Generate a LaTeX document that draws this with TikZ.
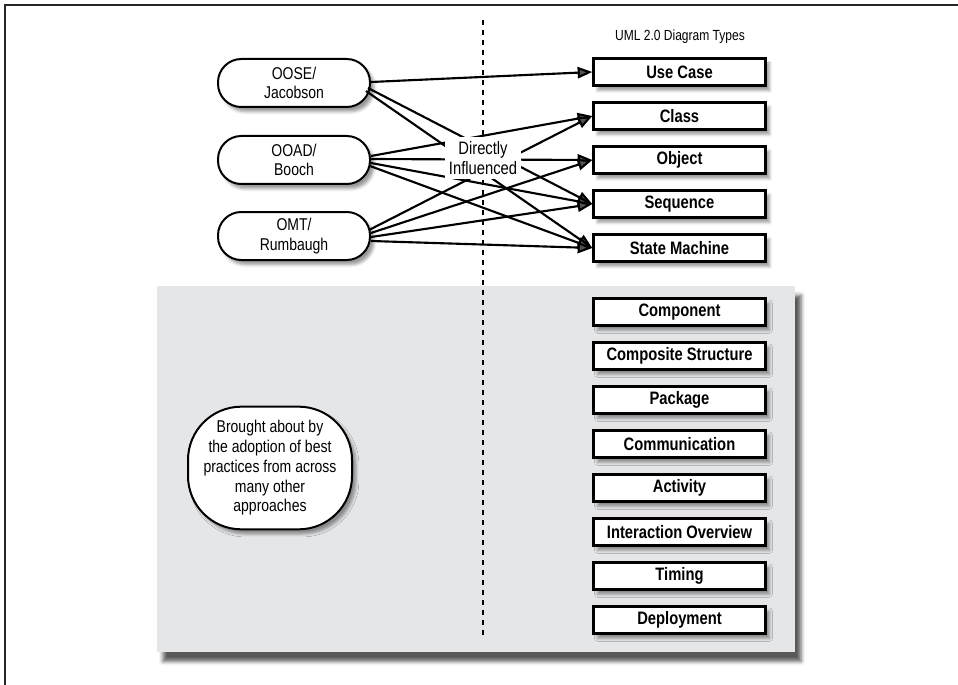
\documentclass[tikz,border=0pt]{standalone}
\usepackage{fontspec}
\setmainfont{Liberation Sans}[FakeStretch=0.82]
\usetikzlibrary{arrows.meta,shadows.blur,calc}
\definecolor{panelgray}{HTML}{E5E6E8}
\begin{document}
\begin{tikzpicture}[x=0.75pt,y=-0.75pt,
  typebox/.style={draw, line width=1.8pt, fill=white, minimum width=129pt, minimum height=20.5pt, inner sep=0pt,
    font=\bfseries\fontsize{13.5}{15}\selectfont,
    blur shadow={shadow xshift=3pt, shadow yshift=-3.5pt, shadow blur radius=2.2pt, shadow opacity=40}},
  source/.style={draw, line width=1.5pt, fill=white, rounded corners=17.5pt, minimum width=114pt, minimum height=36pt,
    align=center, inner sep=0pt, font=\fontsize{12.8}{14.5}\selectfont,
    blur shadow={shadow xshift=3pt, shadow yshift=-3.5pt, shadow blur radius=2.2pt, shadow opacity=40}},
  infl/.style={-{Triangle[length=11pt,width=8.5pt]}, line width=1.6pt},
  divider/.style={line width=1.8pt, dash pattern=on 4pt off 3.5pt},
  plain/.style={align=center, inner sep=1pt, font=\fontsize{13.5}{15}\selectfont}
]
\useasboundingbox (0,0) rectangle (958,685);
% frame
\draw[line width=1.2pt, black!85] (5,685) -- (5,5) -- (958,5);
% panel
\fill[panelgray, blur shadow={shadow xshift=4.5pt, shadow yshift=-7pt, shadow blur radius=3pt, shadow opacity=65}]
  (157,286) rectangle (795,652);
% divider
\coordinate (dtop) at (483,20);
\coordinate (dbot) at (483,637);
\draw[divider] (dtop) -- (dbot);
% title
\node[font=\fontsize{11}{12}\selectfont] (title) at (680,37) {UML 2.0 Diagram Types};
% type boxes
\node[typebox] (usecase) at (679.5,72) {Use Case};
\node[typebox] (class) at (679.5,116) {Class};
\node[typebox] (object) at (679.5,160) {Object};
\node[typebox] (sequence) at (679.5,204) {Sequence};
\node[typebox] (statemachine) at (679.5,248) {State Machine};
\node[typebox] (component) at (679.5,312) {Component};
\node[typebox] (composite) at (679.5,356) {Composite Structure};
\node[typebox] (package) at (679.5,400) {Package};
\node[typebox] (communication) at (679.5,444) {Communication};
\node[typebox] (activity) at (679.5,488) {Activity};
\node[typebox] (interaction) at (679.5,532) {Interaction Overview};
\node[typebox] (timing) at (679.5,576) {Timing};
\node[typebox] (deployment) at (679.5,620) {Deployment};
% sources
\node[source] (oose) at (294,83) {OOSE/\\Jacobson};
\node[source] (ooad) at (294,160) {OOAD/\\Booch};
\node[source] (omt) at (294,236) {OMT/\\Rumbaugh};
\node[source, minimum width=123pt, minimum height=92pt, rounded corners=40pt, font=\fontsize{12.8}{14.8}\selectfont] (brought) at (270,468)
  {Brought about by\\the adoption of best\\practices from across\\many other\\approaches};
% influence arrows
\draw[infl] ($(oose.east)+(0,-1)$) -- (usecase.west);
\draw[infl] ($(oose.east)+(-3,5)$) -- (sequence.west);
\draw[infl] ($(oose.east)+(-5,8)$) -- (statemachine.west);
\draw[infl] ($(ooad.east)+(0,-4)$) -- (class.west);
\draw[infl] ($(ooad.east)+(0,-1)$) -- (object.west);
\draw[infl] ($(ooad.east)+(0,3)$) -- (sequence.west);
\draw[infl] ($(ooad.east)+(-1,6)$) -- (statemachine.west);
\draw[infl] ($(omt.east)+(-2,-6)$) -- (class.west);
\draw[infl] ($(omt.east)+(0,-3)$) -- (object.west);
\draw[infl] ($(omt.east)+(0,1)$) -- (sequence.west);
\draw[infl] ($(omt.east)+(0,5)$) -- (statemachine.west);
% label
\node[plain, fill=white, inner sep=3pt] (directly) at (483,158) {Directly\\Influenced};
\end{tikzpicture}
\end{document}
